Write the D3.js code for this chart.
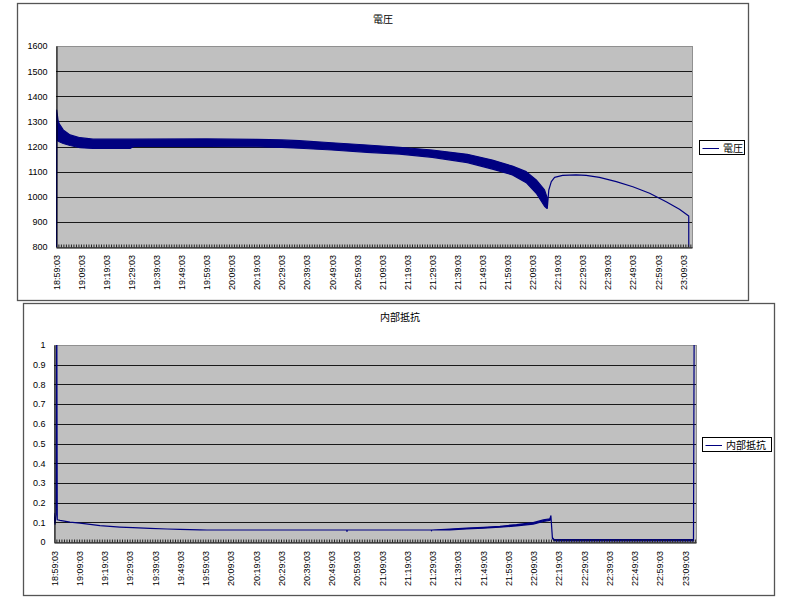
<!DOCTYPE html>
<html><head><meta charset="utf-8">
<script src="https://cdn.jsdelivr.net/npm/d3@7"></script>
<style>body{margin:0;background:#fff;} svg{display:block;}</style>
</head><body>
<svg id="c" width="800" height="600"></svg>
<script>
// ---- data ----
const tickLabels = ["18:59:03","19:09:03","19:19:03","19:29:03","19:39:03","19:49:03","19:59:03","20:09:03","20:19:03","20:29:03","20:39:03","20:49:03","20:59:03","21:09:03","21:19:03","21:29:03","21:39:03","21:49:03","21:59:03","22:09:03","22:19:03","22:29:03","22:39:03","22:49:03","22:59:03","23:09:03"];

const voltTicks = [800,900,1000,1100,1200,1300,1400,1500,1600];
const resTicks = [0,0.1,0.2,0.3,0.4,0.5,0.6,0.7,0.8,0.9,1];

// 電圧: pulsed band (high / low envelope), single line after 22:15
const voltTime = ["18:59:03","18:59:21","18:59:51","19:00:21","19:01:57","19:04:39","19:08:39","19:13:51","19:28:33","19:30:03","19:59:03","20:19:03","20:29:03","20:36:03","20:49:03","21:03:03","21:16:03","21:29:03","21:43:03","21:53:03","22:01:03","22:06:33","22:10:33","22:13:51","22:14:45","22:14:57","22:15:33","22:16:33","22:17:51","22:21:03","22:26:27","22:30:27","22:35:45","22:42:27","22:49:03","22:55:45","23:02:21","23:07:39","23:11:21","23:11:27"];
const voltHigh = [0,1345,1305,1290,1266,1246,1235,1229,1229,1229,1230,1228,1226,1223,1215,1206,1197,1186,1169,1146,1122,1100,1067,1027,1000,954,1027,1060,1077,1085,1087,1085,1077,1060,1040,1014,980,950,923,0];
const voltLow  = [0,1228,1222,1219,1212,1204,1195,1192,1192,1200,1200,1199,1196,1193,1186,1177,1170,1157,1136,1110,1087,1056,1014,962,954,954,1027,1060,1077,1085,1087,1085,1077,1060,1040,1014,980,950,923,0];

// 内部抵抗
const resTime = ["18:59:03","18:59:27","18:59:51","19:00:09","19:00:21","19:01:27","19:05:21","19:09:21","19:13:21","19:17:15","19:21:15","19:25:09","19:30:21","19:37:03","19:43:51","19:48:57","19:56:51","19:59:39","20:55:03","20:55:09","20:55:15","21:28:33","21:28:39","21:28:45","21:35:57","21:42:33","21:49:09","21:55:45","22:02:21","22:08:57","22:12:57","22:15:33","22:15:57","22:16:33","22:17:09","22:18:03","23:12:27","23:12:45"];
const resHigh = [0.145,0.09,0.14,1.2,0.113,0.11,0.101,0.096,0.089,0.083,0.079,0.076,0.073,0.069,0.066,0.064,0.062,0.061,0.061,0.054,0.061,0.061,0.057,0.061,0.066,0.071,0.075,0.080,0.088,0.098,0.112,0.118,0.133,0.022,0.013,0.012,0.012,1.2];
const resLow  = [0.145,0.09,0.14,1.2,0.113,0.11,0.101,0.096,0.089,0.083,0.079,0.076,0.073,0.069,0.066,0.064,0.062,0.061,0.061,0.054,0.061,0.061,0.057,0.061,0.062,0.066,0.070,0.075,0.082,0.091,0.104,0.110,0.133,0.018,0.008,0.005,0.005,1.2];

// ---- drawing ----
const parse = d3.timeParse("%H:%M:%S");
const fmt = d3.timeFormat("%H:%M:%S");
const svg = d3.select("#c");
const NAVY = "#000080";

function drawChart(cfg) {
  const g = svg.append("g");
  // outer frame
  g.append("rect").attr("x", cfg.box.x + 0.5).attr("y", cfg.box.y + 0.5)
    .attr("width", cfg.box.w).attr("height", cfg.box.h)
    .attr("fill", "#fff").attr("stroke", "#555").attr("stroke-width", 1.3);

  const p = cfg.plot;
  const x = d3.scaleTime().domain([parse(cfg.start), parse(cfg.end)]).range([p.l, p.r]);
  const y = d3.scaleLinear().domain(cfg.yDomain).range([p.b, p.t]);

  // plot area
  g.append("rect").attr("x", p.l + 0.5).attr("y", p.t + 0.5)
    .attr("width", p.r - p.l).attr("height", p.b - p.t)
    .attr("fill", "#C0C0C0").attr("stroke", "#909090").attr("stroke-width", 1);

  // gridlines
  g.append("g").selectAll("line").data(cfg.yTicks.slice(1, -1)).join("line")
    .attr("x1", p.l).attr("x2", p.r)
    .attr("y1", d => Math.round(y(d)) + 0.5).attr("y2", d => Math.round(y(d)) + 0.5)
    .attr("stroke", "#1a1a1a").attr("stroke-width", 1);

  // series
  const clipId = "clip" + cfg.id;
  g.append("clipPath").attr("id", clipId).append("rect")
    .attr("x", p.l).attr("y", p.t).attr("width", p.r - p.l + 1).attr("height", p.b - p.t);
  const data = cfg.time.map((t, i) => ({t: parse(t), hi: cfg.high[i], lo: cfg.low[i]}));
  const area = d3.area().x(d => x(d.t)).y0(d => y(d.lo)).y1(d => y(d.hi));
  g.append("path").datum(data).attr("clip-path", `url(#${clipId})`)
    .attr("d", area).attr("fill", NAVY).attr("stroke", NAVY)
    .attr("stroke-width", 1.2).attr("stroke-linejoin", "round");

  // y axis
  const yAxis = d3.axisLeft(y).tickValues(cfg.yTicks).tickSize(0).tickPadding(9).tickFormat(cfg.yFormat);
  const ya = g.append("g").attr("transform", `translate(${p.l + 0.5},0)`).call(yAxis);
  ya.select(".domain").attr("stroke", "#000");
  ya.selectAll("text").attr("font-family", "Liberation Sans, Arial, sans-serif").attr("font-size", 9).attr("fill", "#000");

  // x axis: small inside tick marks
  const minor = d3.timeSecond.every(100).range(parse(cfg.start), parse(cfg.end));
  const xMinor = d3.axisBottom(x).tickValues(minor).tickSizeInner(-3).tickSizeOuter(0).tickFormat("");
  const xm = g.append("g").attr("transform", `translate(0,${p.b + 0.5})`).call(xMinor);
  xm.select(".domain").attr("stroke", "#000");
  xm.selectAll(".tick line").attr("stroke", "#222");

  // x axis labels
  const xLab = d3.axisBottom(x).tickValues(tickLabels.map(parse)).tickSize(0).tickFormat(fmt);
  const xl = g.append("g").attr("transform", `translate(0,${p.b})`).call(xLab);
  xl.select(".domain").remove();
  xl.selectAll("text").attr("transform", "rotate(-90)")
    .attr("x", -cfg.labelGap).attr("y", 0).attr("dy", "0.35em")
    .attr("text-anchor", "end")
    .attr("font-family", "Liberation Sans, Arial, sans-serif").attr("font-size", 9).attr("fill", "#000");

  // title
  g.append("text").attr("x", cfg.titleX).attr("y", cfg.titleY).attr("dy", "0.35em")
    .attr("text-anchor", "middle").attr("font-family", "Noto Sans CJK JP, sans-serif")
    .attr("font-size", 10).text(cfg.name);

  // legend
  const L = cfg.legend;
  g.append("rect").attr("x", L.x + 0.5).attr("y", L.y + 0.5).attr("width", L.w).attr("height", L.h)
    .attr("fill", "#fff").attr("stroke", "#000").attr("stroke-width", 1);
  g.append("line").attr("x1", L.x + 3.5).attr("x2", L.x + 20).attr("y1", L.ly + 0.5).attr("y2", L.ly + 0.5)
    .attr("stroke", NAVY).attr("stroke-width", 1);
  g.append("text").attr("x", L.x + 24).attr("y", L.ly).attr("dy", "0.35em")
    .attr("font-family", "Noto Sans CJK JP, sans-serif").attr("font-size", 10).text(cfg.name);
}

drawChart({
  id: 1, name: "電圧",
  box: {x: 17, y: 3, w: 731, h: 297},
  plot: {l: 56, t: 46, r: 692, b: 247},
  start: "18:59:03", end: "23:12:39",
  yDomain: [800, 1600], yTicks: voltTicks, yFormat: d3.format("d"),
  time: voltTime, high: voltHigh, low: voltLow,
  labelGap: 8,
  titleX: 383, titleY: 19,
  legend: {x: 699, y: 140, w: 45, h: 14, ly: 148}
});

drawChart({
  id: 2, name: "内部抵抗",
  box: {x: 23, y: 303, w: 751, h: 292},
  plot: {l: 54, t: 345, r: 696, b: 542},
  start: "18:59:03", end: "23:13:27",
  yDomain: [0, 1], yTicks: resTicks, yFormat: d => String(+d.toFixed(1)),
  time: resTime, high: resHigh, low: resLow,
  labelGap: 9,
  titleX: 400, titleY: 317,
  legend: {x: 702, y: 437, w: 69, h: 14, ly: 445}
});
</script>
</body></html>
